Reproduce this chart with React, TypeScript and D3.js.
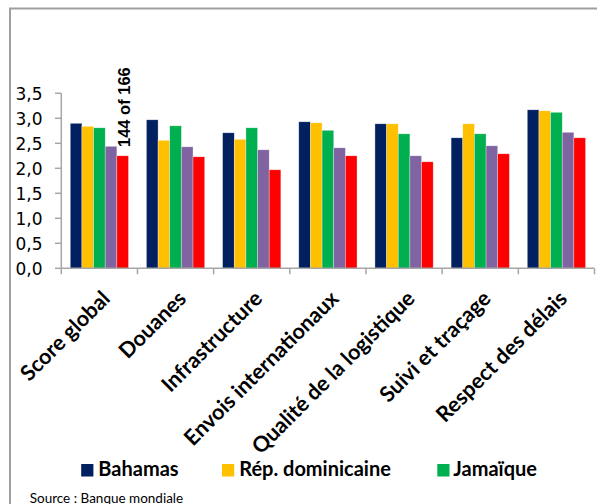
import React from "react";
import * as d3 from "d3";

const categories = [
  "Score global",
  "Douanes",
  "Infrastructure",
  "Envois internationaux",
  "Qualité de la logistique",
  "Suivi et traçage",
  "Respect des délais",
];

const seriesNames = ["Bahamas", "Rép. dominicaine", "Jamaïque", "Série 4", "Série 5"];
const seriesColors = ["#002060", "#FFC000", "#00B050", "#8064A2", "#FF0000"];
const legendSeries = ["Bahamas", "Rép. dominicaine", "Jamaïque"];

const bahamas = [2.9, 2.97, 2.71, 2.93, 2.89, 2.61, 3.17];
const repDominicaine = [2.84, 2.56, 2.58, 2.91, 2.89, 2.89, 3.15];
const jamaique = [2.81, 2.85, 2.81, 2.76, 2.69, 2.69, 3.12];
const serie4 = [2.44, 2.43, 2.37, 2.41, 2.25, 2.45, 2.72];
const serie5 = [2.25, 2.23, 1.97, 2.25, 2.13, 2.29, 2.61];

const seriesValues = [bahamas, repDominicaine, jamaique, serie4, serie5];
const yTicks = [0, 0.5, 1, 1.5, 2, 2.5, 3, 3.5];
const rankLabel = "144 of 166";
const sourceText = "Source : Banque mondiale";

const W = 597;
const H = 504;

export default function App() {
  const x0 = d3.scaleBand<string>().domain(categories).range([61.3, 594.5]).padding(0);
  const x1 = d3
    .scaleBand<string>()
    .domain(seriesNames)
    .range([0, x0.bandwidth()])
    .paddingInner(0)
    .paddingOuter(0.77);
  const y = d3.scaleLinear().domain([0, 3.5]).range([268.3, 93.3]);
  const fmt = (v: number) => d3.format(".1f")(v).replace(".", ",");
  const axisColor = "#a6a6a6";

  const legendPos = [
    { sq: 81.2, tx: 98.3 },
    { sq: 222, tx: 239.2 },
    { sq: 437.3, tx: 453.3 },
  ];

  return (
    <svg
      width={W}
      height={H}
      style={{ position: "absolute", left: 0, top: 0, background: "#fff" }}
    >
      <rect x={0} y={0} width={W} height={H} fill="#fff" />
      <rect x={10} y={8.5} width={700} height={600} fill="none" stroke="#a0a0a0" strokeWidth={2} />

      {/* bars */}
      {categories.map((c, ci) => (
        <g key={c} transform={`translate(${x0(c)},0)`}>
          {seriesNames.map((s, si) => {
            const v = seriesValues[si][ci];
            return (
              <rect
                key={s}
                x={x1(s)}
                y={y(v)}
                width={x1.bandwidth()}
                height={y(0) - y(v)}
                fill={seriesColors[si]}
                stroke="#ffffff"
                strokeOpacity={0.5}
                strokeWidth={0.6}
              />
            );
          })}
        </g>
      ))}

      {/* y axis */}
      <line x1={61.3} x2={61.3} y1={y(3.5)} y2={y(0)} stroke={axisColor} strokeWidth={1.5} />
      {yTicks.map((t) => (
        <g key={t}>
          <line x1={55} x2={61.3} y1={y(t)} y2={y(t)} stroke={axisColor} strokeWidth={1.5} />
          <text
            x={42.5}
            y={y(t) + 6.5}
            textAnchor="end"
            fontFamily="DejaVu Sans"
            fontSize={17}
            fill="#000"
          >
            {fmt(t)}
          </text>
        </g>
      ))}

      {/* x axis */}
      <line x1={61.3} x2={594.5} y1={y(0)} y2={y(0)} stroke={axisColor} strokeWidth={1.5} />
      {categories.map((c) => (
        <line
          key={"t" + c}
          x1={x0(c)}
          x2={x0(c)}
          y1={y(0)}
          y2={y(0) + 6}
          stroke={axisColor}
          strokeWidth={1.5}
        />
      ))}
      <line x1={594.5} x2={594.5} y1={y(0)} y2={y(0) + 6} stroke={axisColor} strokeWidth={1.5} />

      {categories.map((c) => {
        const cx = (x0(c) as number) + x0.bandwidth() / 2;
        return (
          <text
            key={"l" + c}
            transform={`translate(${cx + 12},300) rotate(-45)`}
            textAnchor="end"
            fontFamily="Lato"
            fontWeight="bold"
            fontSize={21.5}
            fill="#000"
          >
            {c}
          </text>
        );
      })}

      <text
        transform={`translate(130,147) rotate(-90)`}
        textAnchor="start"
        fontFamily="Liberation Sans"
        fontWeight="bold"
        fontSize={16.5}
        fill="#000"
      >
        {rankLabel}
      </text>

      {/* legend */}
      {legendSeries.map((s, i) => (
        <g key={"lg" + s}>
          <rect x={legendPos[i].sq} y={464} width={12.2} height={12.5} fill={seriesColors[seriesNames.indexOf(s)]} />
          <text
            x={legendPos[i].tx}
            y={476.3}
            fontFamily="Lato"
            fontWeight="bold"
            fontSize={20}
            fill="#000"
          >
            {s}
          </text>
        </g>
      ))}

      <text x={29.7} y={502.5} fontFamily="Lato" fontSize={13.5} fill="#000">
        {sourceText}
      </text>
    </svg>
  );
}
